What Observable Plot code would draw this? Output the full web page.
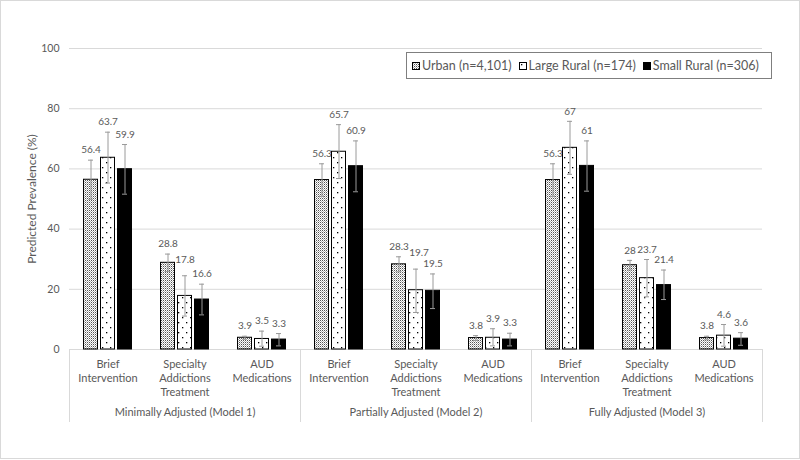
<!DOCTYPE html>
<html>
<head>
<meta charset="utf-8">
<script src="https://cdn.jsdelivr.net/npm/d3@7"></script>
<script src="https://cdn.jsdelivr.net/npm/@observablehq/plot@0.6"></script>
<style>
  body { margin: 0; background: #fff; font-family: Lato, "Open Sans", sans-serif; }
  #chart { position: relative; width: 800px; height: 460px; overflow: hidden; background: #fff; }
  #chart > svg.plotsvg { position: absolute; left: 0; top: 0; }
  #border { position: absolute; left: 0; top: 0; width: 800px; height: 459px; box-sizing: border-box; border: 1px solid #d9d9d9; pointer-events: none; }
  #legend { position: absolute; left: 406px; top: 52px; width: 366px; height: 27px; box-sizing: border-box;
            border: 1px solid #7f7f7f; background: #fff; display: flex; align-items: center; padding-left: 5px;
            font-size: 12.5px; color: #595959; white-space: nowrap; }
  #legend .item { display: flex; align-items: center; margin-right: 7px; }
  #legend svg { margin-right: 2px; }
</style>
</head>
<body>
<svg width="0" height="0" style="position:absolute">
  <defs>
    <pattern id="pat-urban" patternUnits="userSpaceOnUse" width="2" height="2">
      <rect width="2" height="2" fill="#fff"></rect>
      <rect x="0" y="0" width="1" height="1" fill="#555"></rect>
      <rect x="1" y="1" width="1" height="1" fill="#b5b5b5"></rect>
    </pattern>
    <pattern id="pat-large" patternUnits="userSpaceOnUse" width="8" height="10">
      <rect width="8" height="10" fill="#fff"></rect>
      <rect x="2" y="2" width="1.3" height="1.3" fill="#000"></rect>
      <rect x="6" y="7" width="1.3" height="1.3" fill="#000"></rect>
    </pattern>
  </defs>
</svg>
<div id="chart">
  <div id="legend"></div>
  <div id="border"></div>
</div>
<script>
// ---- data ----
const models = ["Minimally Adjusted (Model 1)", "Partially Adjusted (Model 2)", "Fully Adjusted (Model 3)"];
const categories = ["Brief Intervention", "Specialty Addictions Treatment", "AUD Medications"];
const categoryLabels = ["Brief\nIntervention", "Specialty\nAddictions\nTreatment", "AUD\nMedications"];
const seriesNames = ["Urban (n=4,101)", "Large Rural (n=174)", "Small Rural (n=306)"];
const yTicks = [0, 20, 40, 60, 80, 100];
const yLabel = "Predicted Prevalence (%)";

// values in order: Model1 (BI, SAT, AUD), Model2 (...), Model3 (...)
const urbanValues      = [56.4, 28.8, 3.9, 56.3, 28.3, 3.8, 56.3, 28, 3.8];
const largeRuralValues = [63.7, 17.8, 3.5, 65.7, 19.7, 3.9, 67, 23.7, 4.6];
const smallRuralValues = [59.9, 16.6, 3.3, 60.9, 19.5, 3.3, 61, 21.4, 3.6];
// error bar bounds
const urbanLow       = [49.9, 25.9, 3.4, 50.9, 25.8, 3.0, 50.9, 26.4, 3.2];
const urbanHigh      = [62.9, 31.7, 4.4, 61.7, 30.8, 4.6, 61.7, 29.6, 4.4];
const largeRuralLow  = [55.3, 11.1, 1.1, 56.8, 12.3, 1.2, 58.2, 17.5, 1.1];
const largeRuralHigh = [72.2, 24.5, 6.1, 74.7, 26.7, 6.9, 75.8, 29.9, 8.3];
const smallRuralLow  = [51.6, 11.5, 1.2, 52.4, 13.6, 1.2, 52.6, 16.6, 1.4];
const smallRuralHigh = [68.1, 21.7, 5.3, 69.3, 25.1, 5.4, 69.3, 26.4, 5.6];

// ---- build table ----
const valuesBySeries = [urbanValues, largeRuralValues, smallRuralValues];
const lowBySeries = [urbanLow, largeRuralLow, smallRuralLow];
const highBySeries = [urbanHigh, largeRuralHigh, smallRuralHigh];

// ---- styles ----
const fills = ["url(#pat-urban)", "url(#pat-large)", "#000"];
const offsets = [-17, 0, 17];
const barInset = 31.5;
const capInset = 36;
const labelFont = 10;
const textColor = "#595959";
const gridColor = "#d9d9d9";
const errColor = "#9a9a9a";
const pxPerUnit = 301 / 100;

// label collision avoidance (approximate text widths)
const textWidth = t => [...t].reduce((w, c) => w + (c === "." ? 0.25 : 0.58) * labelFont, 0);
function labelShift(si, i) {
  let dx = 0, dy = 0;
  if (si === 1) {
    const tU = String(urbanValues[i]), tL = String(largeRuralValues[i]), tS = String(smallRuralValues[i]);
    const overlapU = (textWidth(tU) + textWidth(tL)) / 2 > 17;
    const overlapS = (textWidth(tS) + textWidth(tL)) / 2 > 17;
    if (overlapU && Math.abs(urbanHigh[i] - largeRuralHigh[i]) * pxPerUnit < 13) dx = 3;
    if (overlapS && Math.abs(smallRuralHigh[i] - largeRuralHigh[i]) * pxPerUnit < 10) dy = -6;
  }
  return {dx, dy};
}

const rows = [];
seriesNames.forEach((s, si) => {
  valuesBySeries[si].forEach((v, i) => {
    const sh = labelShift(si, i);
    rows.push({
      model: models[Math.floor(i / 3)],
      category: categories[i % 3],
      series: s,
      value: v,
      lo: lowBySeries[si][i],
      hi: highBySeries[si][i],
      shiftKey: `${sh.dx},${sh.dy}`
    });
  });
});

const seriesMarks = seriesNames.flatMap((s, si) => {
  const data = rows.filter(d => d.series === s);
  const shiftKeys = [...new Set(data.map(d => d.shiftKey))];
  return [
    Plot.barY(data, {fx: "model", x: "category", y: "value", fill: fills[si], stroke: "#000", strokeWidth: 1,
                     dx: offsets[si], insetLeft: barInset, insetRight: barInset}),
    Plot.ruleX(data, {fx: "model", x: "category", y1: "lo", y2: "hi", dx: offsets[si], stroke: errColor, strokeWidth: 1}),
    Plot.tickY(data, {fx: "model", x: "category", y: "lo", dx: offsets[si], stroke: errColor, insetLeft: capInset, insetRight: capInset}),
    Plot.tickY(data, {fx: "model", x: "category", y: "hi", dx: offsets[si], stroke: errColor, insetLeft: capInset, insetRight: capInset}),
    ...shiftKeys.map(k => {
      const [sdx, sdy] = k.split(",").map(Number);
      return Plot.text(data.filter(d => d.shiftKey === k), {
        fx: "model", x: "category", y: "hi", text: d => String(d.value),
        dx: offsets[si] + sdx, dy: -10 + sdy, fill: textColor, fontSize: labelFont
      });
    })
  ];
});

const chart = Plot.plot({
  width: 800,
  height: 460,
  marginLeft: 69,
  marginRight: 38,
  marginTop: 48,
  marginBottom: 111,
  style: {fontFamily: "Lato, 'Open Sans', sans-serif", fontSize: "11px", color: textColor, background: "transparent", overflow: "visible"},
  fx: {domain: models, padding: 0, label: null},
  x: {domain: categories, padding: 0},
  y: {domain: [0, 100]},
  marks: [
    Plot.ruleY(yTicks, {stroke: gridColor, strokeWidth: 1}),
    Plot.frame({anchor: "left", stroke: gridColor, insetTop: 229, dy: 72}),
    Plot.frame({anchor: "right", stroke: gridColor, insetTop: 229, dy: 72}),
    Plot.axisY({ticks: yTicks, tickSize: 0, tickPadding: 10, fontSize: 10.5, label: null}),
    Plot.axisY({ticks: [], tickSize: 0, fontSize: 12, label: yLabel, labelAnchor: "center", labelOffset: 42, labelArrow: "none"}),
    Plot.axisX({tickSize: 0, tickPadding: 9, fontSize: 11, lineHeight: 1.27, label: null,
                tickFormat: d => categoryLabels[categories.indexOf(d)]}),
    Plot.axisFx({anchor: "bottom", tickSize: 0, tickPadding: 59, fontSize: 11, label: null}),
    ...seriesMarks
  ]
});
chart.classList.add("plotsvg");
const container = document.getElementById("chart");
container.insertBefore(chart, container.firstChild);

// ---- legend ----
const legend = document.getElementById("legend");
seriesNames.forEach((s, si) => {
  const item = document.createElement("div");
  item.className = "item";
  item.innerHTML = `<svg width="8" height="8"><rect x="0.5" y="0.5" width="7" height="7" fill="${fills[si]}" stroke="#000"></rect></svg><span>${s}</span>`;
  legend.appendChild(item);
});
</script>
</body>
</html>
